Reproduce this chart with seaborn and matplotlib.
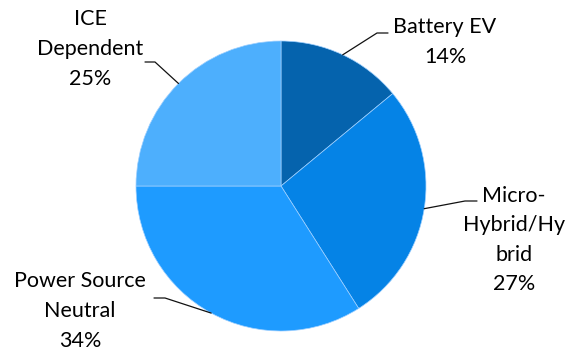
import numpy as np
import matplotlib
matplotlib.use("Agg")
import matplotlib.pyplot as plt
import seaborn as sns

# Powertrain mix shares
categories = ["Battery EV", "Micro-\nHybrid/Hy\nbrid", "Power Source\nNeutral", "ICE\nDependent"]
shares = [14, 27, 34, 25]
colors = ["#0563ad", "#0583e6", "#1e9bff", "#4daffd"]

sns.set_theme(style="white")
plt.rcParams["font.family"] = ["Lato", "DejaVu Sans"]

W, H = 569, 350
fig = plt.figure(figsize=(W / 100, H / 100), dpi=100)
cx, cy, r = 281, 186, 145
ax = fig.add_axes([(cx - r) / W, (H - cy - r) / H, 2 * r / W, 2 * r / H])

wedges, _ = ax.pie(shares, colors=colors, startangle=90, counterclock=False,
                   radius=1, wedgeprops=dict(edgecolor="#9fd0ff", linewidth=0.5))
ax.set_xlim(-1, 1)
ax.set_ylim(-1, 1)
ax.set_aspect("equal")
ax.axis("off")


def px(x, y):
    """Convert pixel coordinates to pie data coordinates."""
    return (x - cx) / r, (cy - y) / r


# label block centre and leader elbow/end (pixels)
label_layout = [
    ((445, 42), (377, 33), (388, 33)),
    ((514, 240), (465, 201), (477, 201)),
    ((80, 311), (165, 298), (154, 298)),
    ((90, 49), (155, 62), (145, 62)),
]

for w, name, val, (tc, elbow, end) in zip(wedges, categories, shares, label_layout):
    mid = np.deg2rad((w.theta1 + w.theta2) / 2)
    sx, sy = np.cos(mid), np.sin(mid)
    ex, ey = px(*elbow)
    fx, fy = px(*end)
    ax.plot([sx, ex, fx], [sy, ey, fy], color="#111111", lw=0.9, clip_on=False)
    tx, ty = px(*tc)
    ax.text(tx, ty, f"{name}\n{val}%", ha="center", va="center", fontsize=15.5,
            linespacing=1.6, color="black", clip_on=False)

fig.savefig("out.png", dpi=100, facecolor="white")
